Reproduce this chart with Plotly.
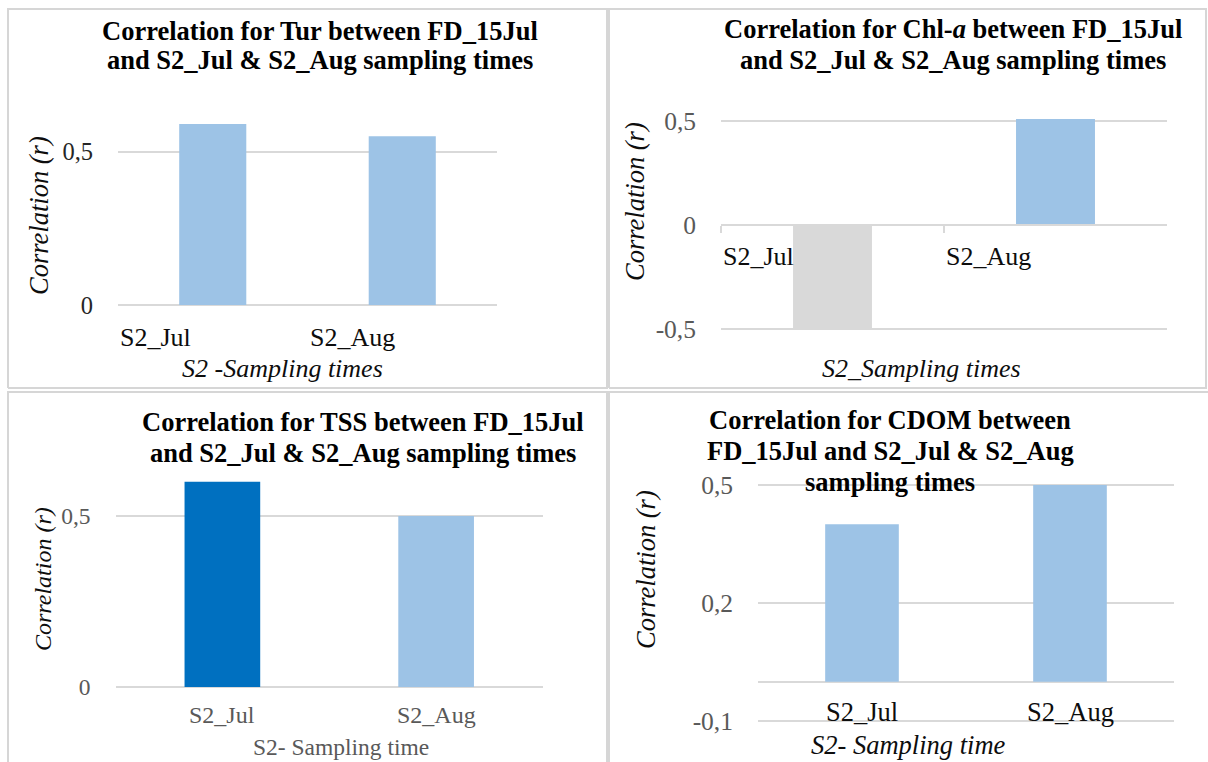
import plotly.graph_objects as go

# ---- data -------------------------------------------------------------
categories = ["S2_Jul", "S2_Aug"]

tur_r = [0.59, 0.55]
chla_r = [-0.50, 0.51]
tss_r = [0.60, 0.50]
cdom_r = [0.40, 0.50]

tur_ticks = [0, 0.5]
tur_ticktext = ["0", "0,5"]
chla_ticks = [-0.5, 0, 0.5]
chla_ticktext = ["-0,5", "0", "0,5"]
tss_ticks = [0, 0.5]
tss_ticktext = ["0", "0,5"]
cdom_ticks = [-0.1, 0.2, 0.5]
cdom_ticktext = ["-0,1", "0,2", "0,5"]

# ---- styling ----------------------------------------------------------
W, H = 1208, 762
FONT = "'Times New Roman', 'Liberation Serif', Times, serif"
LIGHT = "#9dc3e6"
DARK = "#0070c0"
GREY_BAR = "#d9d9d9"
GRID = "#d9d9d9"
TXT = "#0d0d0d"
TXT_GREY = "#595959"

tur_colors = [LIGHT, LIGHT]
chla_colors = [GREY_BAR, LIGHT]
tss_colors = [DARK, LIGHT]
cdom_colors = [LIGHT, LIGHT]


def px_x(p):
    return p / W


def px_y(p):
    return 1 - p / H


def y_fit(top_px, bottom_px, va, pa, vb, pb):
    """Domain and range so that value va sits at pixel pa and vb at pb."""
    per_px = (vb - va) / (pa - pb)
    lo = va - (bottom_px - pa) * per_px
    hi = va + (pa - top_px) * per_px
    return [px_y(bottom_px), px_y(top_px)], [lo, hi]


fig = go.Figure()

panels = [
    dict(vals=tur_r, cols=tur_colors, xd=(118, 497),
         yfit=(90, 305, 0.0, 305, 0.5, 151.7),
         tv=tur_ticks, tt=tur_ticktext, tcol="#262626", tsize=24.5),
    dict(vals=chla_r, cols=chla_colors, xd=(721, 1167),
         yfit=(100, 340, 0.0, 225, 0.5, 121),
         tv=chla_ticks, tt=chla_ticktext, tcol=TXT_GREY, tsize=25.5),
    dict(vals=tss_r, cols=tss_colors, xd=(115.5, 543),
         yfit=(470, 687, 0.0, 687, 0.5, 516),
         tv=tss_ticks, tt=tss_ticktext, tcol=TXT_GREY, tsize=23.5),
    dict(vals=cdom_r, cols=cdom_colors, xd=(758, 1174),
         yfit=(470, 730, 0.5, 485, 0.2, 603),
         tv=cdom_ticks, tt=cdom_ticktext, tcol=TXT_GREY, tsize=25.5),
]

for i, p in enumerate(panels, start=1):
    xa = "x" if i == 1 else f"x{i}"
    ya = "y" if i == 1 else f"y{i}"
    fig.add_trace(go.Bar(
        x=categories, y=p["vals"], width=0.354,
        marker=dict(color=p["cols"], line=dict(width=0)),
        xaxis=xa, yaxis=ya, showlegend=False, hoverinfo="x+y",
    ))
    ydom, yrange = y_fit(*p["yfit"])
    xkey = "xaxis" if i == 1 else f"xaxis{i}"
    ykey = "yaxis" if i == 1 else f"yaxis{i}"
    fig.update_layout({
        xkey: dict(domain=[px_x(p["xd"][0]), px_x(p["xd"][1])],
                   anchor=ya, type="category", showticklabels=False,
                   showgrid=False, zeroline=False, showline=False,
                   ticks="", fixedrange=True, automargin=False),
        ykey: dict(domain=ydom, range=yrange, anchor=xa,
                   tickvals=p["tv"], ticktext=p["tt"],
                   showgrid=True, gridcolor=GRID, gridwidth=1.5,
                   zeroline=True, zerolinecolor=GRID, zerolinewidth=1.5,
                   showline=False, ticks="", ticklabelstandoff=24,
                   tickfont=dict(family=FONT, size=p["tsize"], color=p["tcol"]),
                   fixedrange=True, automargin=False),
    })

# Chl-a panel: category axis sits on the zero line with boundary ticks
fig.update_layout(xaxis2=dict(anchor="free", position=px_y(225),
                              showline=True, linecolor=GRID, linewidth=1.5,
                              ticks="outside", tickson="boundaries",
                              ticklen=7, tickwidth=1.5, tickcolor=GRID))

annotations = []


def text(x, y, s, size, color=TXT, angle=0, xref="paper", yref="paper",
         xanchor="center", yanchor="middle"):
    annotations.append(dict(
        x=x, y=y, xref=xref, yref=yref, text=s, showarrow=False,
        textangle=angle, xanchor=xanchor, yanchor=yanchor,
        font=dict(family=FONT, size=size, color=color)))


# titles, one line per annotation
TS = 26.5
text(px_x(320), px_y(31), "<b>Correlation for Tur between FD_15Jul</b>", TS, "#000")
text(px_x(320), px_y(59.5), "<b>and S2_Jul & S2_Aug sampling times</b>", TS, "#000")
text(px_x(953), px_y(29), "<b>Correlation for Chl-<i>a</i> between FD_15Jul</b>", TS, "#000")
text(px_x(953), px_y(59.5), "<b>and S2_Jul & S2_Aug sampling times</b>", TS, "#000")
text(px_x(363), px_y(422), "<b>Correlation for TSS between FD_15Jul</b>", TS, "#000")
text(px_x(363), px_y(453), "<b>and S2_Jul & S2_Aug sampling times</b>", TS, "#000")
text(px_x(890), px_y(420), "<b>Correlation for CDOM between</b>", TS, "#000")
text(px_x(890), px_y(451), "<b>FD_15Jul and S2_Jul & S2_Aug</b>", TS, "#000")
text(px_x(890), px_y(482), "<b>sampling times</b>", TS, "#000")

# y-axis titles
text(px_x(39), px_y(216), "<i>Correlation (r)</i>", 26.5, TXT, -90)
text(px_x(635), px_y(202), "<i>Correlation (r)</i>", 26.5, TXT, -90)
text(px_x(43), px_y(579), "<i>Correlation (r)</i>", 24, TXT, -90)
text(px_x(646), px_y(570), "<i>Correlation (r)</i>", 26.5, TXT, -90)

# category labels (left-aligned at the category start in the top row)
for k, c in enumerate(categories):
    text(k - 0.5, px_y(337), c, 26, TXT, xref="x", xanchor="left")
    text(k - 0.5, px_y(257), c, 26, TXT, xref="x2", xanchor="left")
    text(k, px_y(715), c, 24, TXT_GREY, xref="x3")
    text(k, px_y(712), c, 26.5, TXT, xref="x4")

# x-axis titles (bottom row sits on the lower edge of the figure)
text(px_x(282), px_y(368), "<i>S2 -Sampling times</i>", 26, TXT)
text(px_x(921), px_y(368), "<i>S2_Sampling times</i>", 26, TXT)
text(px_x(341), 0, "S2- Sampling time", 23.5, TXT_GREY, yanchor="bottom")
text(px_x(908), 0, "<i>S2- Sampling time</i>", 26.5, TXT, yanchor="bottom")


# panel frames; the lower row runs off the bottom edge, so no bottom side
def frame_path(pts):
    return "M " + " L ".join(f"{px_x(a):.5f},{px_y(b):.5f}" for a, b in pts)


frame_pts = [
    [(8, 388), (8, 9), (607, 9), (607, 388), (8, 388)],
    [(609, 388), (609, 9), (1206, 9), (1206, 388), (609, 388)],
    [(8, 762), (8, 392), (607, 392), (607, 762)],
    [(609, 762), (609, 392), (1208, 392)],
]
shapes = [dict(type="path", xref="paper", yref="paper", path=frame_path(pts),
               line=dict(color="#d6d6d6", width=2), layer="below")
          for pts in frame_pts]

fig.update_layout(
    width=W, height=H, margin=dict(l=0, r=0, t=0, b=0, autoexpand=False),
    paper_bgcolor="white", plot_bgcolor="white",
    annotations=annotations, shapes=shapes, showlegend=False,
    font=dict(family=FONT),
)

# the page body keeps no margin so the figure fills the window exactly
page_js = "document.body.style.margin = '0'; document.body.style.overflow = 'hidden';"
fig.write_html("out.html", config={"displayModeBar": False}, post_script=page_js)
